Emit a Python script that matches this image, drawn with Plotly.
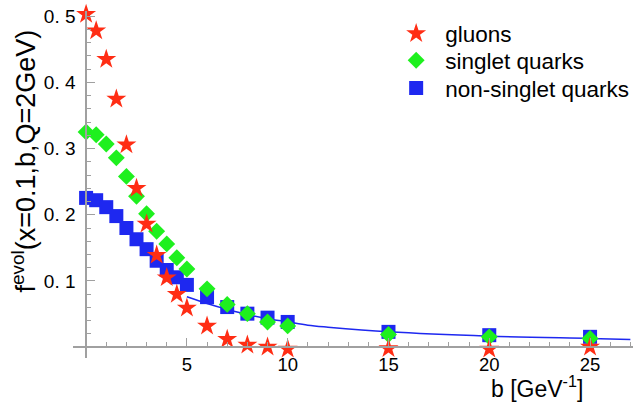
import plotly.graph_objects as go

# ---- data ----
b_vals = [0, 0.5, 1, 1.5, 2, 2.5, 3, 3.5, 4, 4.5, 5, 6, 7, 8, 9, 10, 15, 20, 25]
gluons = [0.503, 0.478, 0.435, 0.375, 0.306, 0.240, 0.186, 0.139, 0.105, 0.080,
          0.059, 0.032, 0.012, 0.003, 0.0, -0.003, -0.002, -0.003, 0.0]
singlet = [0.325, 0.321, 0.307, 0.286, 0.258, 0.228, 0.2015, 0.175, 0.156, 0.135,
           0.118, 0.088, 0.0645, 0.0505, 0.038, 0.032, 0.019, 0.0155, 0.013]
nonsinglet = [0.2255, 0.222, 0.2115, 0.198, 0.180, 0.163, 0.148, 0.1305, 0.1165, 0.1055,
              0.094, 0.0755, 0.0605, 0.0505, 0.0445, 0.038, 0.023, 0.018, 0.0155]
curve_b = [5, 6, 7, 8, 9, 10, 11, 12, 15, 20, 25, 27]
curve_f = [0.076, 0.066, 0.057, 0.049, 0.043, 0.038, 0.033, 0.030, 0.023, 0.0165, 0.013, 0.0115]

x_ticks = [5, 10, 15, 20, 25]
x_ticktext = ["5", "10", "15", "20", "25"]
y_ticks = [0.1, 0.2, 0.3, 0.4, 0.5]
y_ticktext = ["0. 1", "0. 2", "0. 3", "0. 4", "0. 5"]

FONT = "Liberation Sans, Arial, sans-serif"
RED = "#ff2d14"
GREEN = "#1ef01e"
BLUE = "#1e28f0"
AXIS = "#a0a0a0"

fig = go.Figure()
fig.add_trace(go.Scatter(x=curve_b, y=curve_f, mode="lines", line=dict(color=BLUE, width=1.5, shape="spline"),
                         showlegend=False, hoverinfo="skip"))
fig.add_trace(go.Scatter(x=b_vals, y=nonsinglet, mode="markers", name="non-singlet quarks", legend="legend3",
                         marker=dict(symbol="square", size=14, color=BLUE, line=dict(width=0)), cliponaxis=False))
fig.add_trace(go.Scatter(x=b_vals, y=singlet, mode="markers", name="singlet quarks", legend="legend2",
                         marker=dict(symbol="diamond", size=13, color=GREEN, line=dict(width=0)), cliponaxis=False))
fig.add_trace(go.Scatter(x=b_vals, y=gluons, mode="markers", name="gluons", legend="legend",
                         marker=dict(symbol="star", size=15, color=RED, line=dict(width=0)), cliponaxis=False))

leg_common = dict(x=0.561, xanchor="left", yanchor="middle", itemwidth=48,
                  bgcolor="rgba(0,0,0,0)", font=dict(size=22.5))

fig.update_layout(
    width=640, height=403,
    margin=dict(l=73, r=6, t=8, b=45),
    paper_bgcolor="white", plot_bgcolor="white",
    font=dict(family=FONT, color="black"),
    xaxis=dict(range=[-0.65, 27.13], anchor="free", position=11/350,
               showline=True, linecolor=AXIS, linewidth=1.5,
               showgrid=False, zeroline=False,
               ticks="inside", ticklen=8, tickcolor=AXIS, tickwidth=1,
               tickvals=x_ticks, ticktext=x_ticktext, tickfont=dict(size=18.5),
               ticklabelstandoff=1,
               minor=dict(ticks="inside", ticklen=4, dtick=1, tick0=0, tickcolor=AXIS, showgrid=False)),
    yaxis=dict(range=[-0.0165, 0.508], anchor="free", position=13.1/561,
               showline=True, linecolor=AXIS, linewidth=1.5,
               showgrid=False, zeroline=False,
               ticks="inside", ticklen=8, tickcolor=AXIS, tickwidth=1,
               tickvals=y_ticks, ticktext=y_ticktext, tickfont=dict(size=19),
               ticklabelstandoff=6,
               minor=dict(ticks="inside", ticklen=4, dtick=0.02, tick0=0, tickcolor=AXIS, showgrid=False)),
    legend=dict(y=(358 - 31) / 350, **leg_common),
    legend2=dict(y=(358 - 58) / 350, **leg_common),
    legend3=dict(y=(358 - 86) / 350, **leg_common),
    annotations=[
        dict(text="f<sup>evol</sup>(x=0.1,b,Q=2GeV)", textangle=-90, xref="paper", yref="paper",
             x=-0.0873, y=(358 - 25) / 350, xanchor="center", yanchor="top", showarrow=False,
             font=dict(size=27)),
        dict(text="b [GeV<sup>-1</sup>]", xref="paper", yref="paper",
             x=0.828, y=-0.085, xanchor="center", yanchor="middle", showarrow=False,
             font=dict(size=23)),
    ],
)

fig.write_html("out.html")
